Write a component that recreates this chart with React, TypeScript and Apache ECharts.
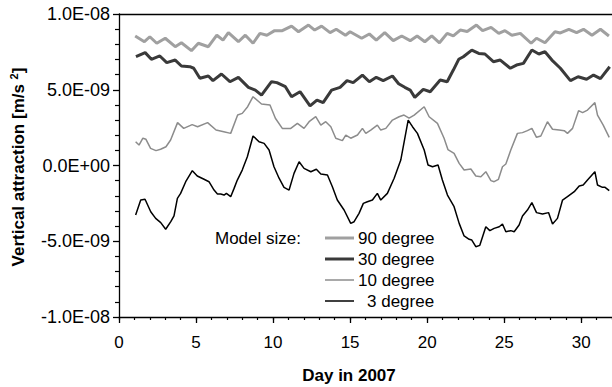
import React, { useEffect, useRef } from "react";
import * as echarts from "echarts";

// values in units of 1E-9 m/s^2
const days90 = [1.05, 1.65, 2.0, 2.45, 3.0, 3.65, 4.05, 4.7, 5.15, 5.8, 6.35, 6.75, 7.1, 7.75, 8.2, 8.7, 9.15, 9.6, 10.1, 10.6, 11.2, 11.65, 12.3, 12.7, 13.15, 13.7, 14.1, 14.7, 15.0, 15.75, 16.25, 16.7, 17.25, 17.8, 18.35, 18.9, 19.35, 19.85, 20.3, 20.8, 21.3, 21.7, 22.15, 22.6, 23.2, 23.6, 24.15, 24.65, 25.05, 25.5, 26.05, 26.75, 27.1, 27.65, 28.3, 28.65, 29.2, 29.7, 30.15, 30.7, 31.25, 31.8];
const deg90 = [8.55, 8.17, 8.5, 8.07, 8.4, 7.84, 8.1, 7.58, 8.07, 7.84, 8.6, 8.28, 8.77, 8.17, 8.6, 8.07, 8.72, 8.6, 8.9, 8.9, 9.2, 8.83, 9.27, 8.94, 9.2, 8.77, 8.99, 8.6, 8.83, 8.4, 8.68, 8.28, 8.77, 8.24, 8.55, 8.24, 8.55, 8.17, 8.55, 8.1, 8.72, 8.55, 8.94, 8.85, 9.27, 8.9, 9.12, 8.72, 8.9, 8.6, 8.72, 8.07, 8.4, 8.1, 8.83, 8.75, 8.99, 8.77, 8.99, 8.6, 8.99, 8.55];

const days30 = [1.1, 1.7, 2.1, 2.65, 3.1, 3.65, 4.05, 4.6, 4.85, 5.25, 5.8, 6.1, 6.65, 7.2, 7.75, 8.4, 8.85, 9.25, 9.9, 10.25, 10.8, 11.2, 11.75, 12.4, 12.85, 13.25, 13.8, 14.35, 14.8, 15.2, 15.8, 16.25, 16.7, 17.15, 17.75, 18.15, 18.55, 18.9, 19.2, 19.75, 20.2, 20.85, 21.3, 21.7, 22.05, 22.35, 22.9, 23.35, 23.75, 24.3, 24.75, 25.4, 25.8, 26.25, 26.8, 27.25, 27.65, 28.1, 28.65, 29.3, 29.8, 30.35, 30.8, 31.25, 31.85];
const deg30 = [7.18, 7.45, 7.01, 7.23, 6.79, 6.96, 6.57, 6.52, 6.42, 5.76, 5.91, 5.6, 6.04, 5.53, 5.82, 5.16, 4.98, 4.65, 5.53, 5.47, 5.2, 4.54, 4.87, 3.93, 4.32, 4.15, 4.98, 5.16, 5.6, 5.47, 5.97, 5.53, 5.82, 5.6, 5.91, 5.4, 5.16, 4.98, 4.5, 5.03, 4.87, 5.64, 5.53, 6.3, 7.01, 7.18, 7.62, 7.4, 7.36, 6.85, 6.96, 6.42, 6.63, 6.74, 7.62, 7.36, 7.51, 6.96, 6.42, 5.6, 5.86, 5.69, 5.97, 5.73, 6.52];

const days10 = [1.08, 1.3, 1.55, 1.75, 2.05, 2.4, 2.7, 3.05, 3.35, 3.8, 4.2, 4.75, 5.1, 5.75, 6.3, 6.8, 7.25, 7.7, 8.0, 8.35, 8.7, 9.25, 9.8, 10.15, 10.6, 11.15, 11.58, 12.01, 12.34, 12.77, 13.1, 13.42, 13.75, 14.07, 14.5, 14.72, 15.04, 15.48, 15.8, 16.02, 16.34, 16.77, 16.99, 17.32, 17.75, 18.18, 18.5, 18.83, 19.16, 19.81, 20.13, 20.67, 21.1, 21.35, 21.75, 22.08, 22.4, 22.84, 23.16, 23.49, 23.81, 24.14, 24.35, 24.63, 24.89, 25.11, 25.43, 25.86, 26.19, 26.51, 26.8, 27.1, 27.38, 27.81, 28.14, 28.57, 28.9, 29.11, 29.44, 29.83, 30.09, 30.41, 30.89, 31.06, 31.43, 31.82];
const deg10 = [1.57, 1.35, 1.8, 1.73, 1.13, 0.98, 1.07, 1.24, 1.68, 2.83, 2.45, 2.7, 2.56, 2.83, 2.34, 2.23, 2.12, 3.33, 3.44, 3.88, 4.54, 4.06, 3.99, 3.12, 2.45, 2.45, 2.78, 2.45, 2.89, 3.22, 2.67, 2.89, 2.56, 1.8, 1.64, 2.01, 1.8, 2.01, 2.45, 2.12, 2.34, 2.67, 2.34, 2.45, 3.0, 3.22, 3.33, 3.12, 3.33, 3.88, 3.22, 2.78, 1.8, 1.05, 0.8, 0.14, -0.3, -0.23, -0.69, -0.74, -0.41, -1.0, -1.07, -0.91, -0.08, 0.1, 1.02, 2.12, 2.17, 2.3, 2.45, 1.86, 1.95, 2.89, 2.39, 2.34, 2.3, 2.12, 2.45, 3.62, 3.49, 3.66, 4.15, 3.33, 2.67, 1.86];

const days3 = [1.08, 1.41, 1.69, 2.06, 2.38, 2.71, 3.03, 3.36, 3.57, 3.79, 4.0, 4.33, 4.76, 5.08, 5.52, 5.84, 6.17, 6.39, 6.6, 6.82, 6.97, 7.25, 7.47, 7.68, 8.0, 8.33, 8.7, 9.09, 9.42, 9.74, 10.06, 10.39, 10.71, 11.04, 11.36, 11.69, 12.01, 12.45, 12.81, 13.1, 13.53, 13.85, 14.17, 14.61, 15.04, 15.26, 15.58, 15.86, 16.12, 16.45, 16.77, 16.99, 17.42, 17.86, 18.29, 18.77, 19.05, 19.37, 19.81, 20.06, 20.35, 20.71, 20.99, 21.32, 21.75, 22.08, 22.4, 22.73, 22.9, 23.16, 23.42, 23.81, 24.07, 24.35, 24.68, 24.89, 25.11, 25.43, 25.65, 25.97, 26.19, 26.51, 26.8, 27.1, 27.49, 27.88, 28.14, 28.46, 28.79, 29.11, 29.55, 29.87, 30.13, 30.41, 30.89, 31.06, 31.38, 31.55, 31.82];
const deg3 = [-3.27, -2.28, -2.23, -3.05, -3.49, -3.77, -4.21, -3.71, -3.33, -2.17, -1.84, -1.07, -0.34, -0.69, -0.91, -1.07, -1.62, -1.88, -1.88, -1.95, -1.84, -2.06, -1.51, -0.96, -0.3, 0.58, 1.95, 1.57, 1.46, 1.02, -0.08, -0.84, -1.44, -1.62, -0.52, 0.25, -0.19, -0.41, -0.25, -0.56, -0.63, -1.4, -2.28, -2.94, -3.82, -3.71, -3.16, -2.5, -2.39, -2.28, -1.84, -2.28, -1.84, -0.84, 0.36, 3.0, 2.56, 2.12, 1.02, 0.03, -0.08, 0.03, -0.96, -1.95, -2.72, -3.82, -4.65, -4.87, -4.92, -5.36, -5.27, -4.04, -4.3, -4.15, -4.04, -3.86, -4.37, -4.3, -4.37, -3.93, -3.33, -2.94, -2.45, -3.11, -3.2, -3.11, -3.86, -3.49, -2.28, -2.06, -1.73, -1.35, -1.29, -0.96, -0.41, -1.29, -1.44, -1.44, -1.66];

const seriesNames = ["90 degree", "30 degree", "10 degree", "3 degree"];
const legendTitle = "Model size:";
const yTickValues = [-10, -5, 0, 5, 10];
const yTickLabels = ["-1.0E-08", "-5.0E-09", "0.0E+00", "5.0E-09", "1.0E-08"];

const FONT = "'Liberation Sans', Arial, Helvetica, sans-serif";

function pairs(xs: number[], ys: number[]) {
  return xs.map((x, i) => [x, ys[i]]);
}

export default function App() {
  const ref = useRef<HTMLDivElement>(null);
  useEffect(() => {
    if (!ref.current) return;
    const chart = echarts.init(ref.current, null, { renderer: "svg" });
    const styles = [
      { color: "#a0a0a0", width: 3 },
      { color: "#3a3a3a", width: 3 },
      { color: "#8c8c8c", width: 1.5 },
      { color: "#000000", width: 1.5 },
    ];
    const dataSets = [
      pairs(days90, deg90),
      pairs(days30, deg30),
      pairs(days10, deg10),
      pairs(days3, deg3),
    ];
    const axisLineStyle = { color: "#000", width: 1.3 };
    const legendRowsY = [238, 259, 280, 301];
    const legendGraphics: any[] = [];
    seriesNames.forEach((name, i) => {
      legendGraphics.push({
        type: "line",
        shape: { x1: 325, y1: legendRowsY[i], x2: 354, y2: legendRowsY[i] },
        style: { stroke: styles[i].color, lineWidth: styles[i].width },
      });
      legendGraphics.push({
        type: "text",
        x: name.startsWith("3 ") ? 367 : 358,
        y: legendRowsY[i],
        style: { text: name, font: `17px ${FONT}`, fill: "#000", verticalAlign: "middle" },
      });
    });
    chart.setOption({
      animation: false,
      backgroundColor: "#fff",
      textStyle: { fontFamily: FONT },
      grid: { left: 119, top: 14, right: 0, bottom: 70, containLabel: false },
      xAxis: [
        {
          type: "value",
          min: 0,
          max: 32,
          interval: 5,
          axisLine: { onZero: false, lineStyle: axisLineStyle },
          axisTick: { length: 6, lineStyle: axisLineStyle },
          splitLine: { show: false },
          axisLabel: {
            fontSize: 17,
            color: "#000",
            margin: 17,
            fontFamily: FONT,
            showMaxLabel: false,
            formatter: (v: number) => (v <= 30 ? String(v) : ""),
          },
        },
        {
          type: "value",
          position: "top",
          min: 0,
          max: 32,
          axisLine: { show: true, onZero: false, lineStyle: axisLineStyle },
          axisTick: { show: false },
          axisLabel: { show: false },
          splitLine: { show: false },
        },
        {
          type: "value",
          position: "bottom",
          min: 0,
          max: 32,
          interval: 1,
          axisLine: { show: false, onZero: false },
          axisTick: { show: true, length: 3, lineStyle: { color: "#000", width: 1.2 } },
          axisLabel: { show: false },
          splitLine: { show: false },
        },
      ],
      yAxis: {
        type: "value",
        min: -10,
        max: 10,
        interval: 5,
        axisLine: { show: true, onZero: false, lineStyle: axisLineStyle },
        axisTick: { show: true, length: 6, lineStyle: axisLineStyle },
        minorTick: { show: true, splitNumber: 5, length: 4, lineStyle: { color: "#000", width: 1.2 } },
        splitLine: { show: false },
        axisLabel: {
          fontSize: 18,
          color: "#000",
          margin: 9,
          fontFamily: FONT,
          formatter: (v: number) => {
            const i = yTickValues.indexOf(Math.round(v));
            return i >= 0 ? yTickLabels[i] : "";
          },
        },
      },
      series: seriesNames.map((name, i) => ({
        name,
        type: "line",
        data: dataSets[i],
        showSymbol: false,
        symbol: "none",
        smooth: false,
        color: styles[i].color,
        lineStyle: { color: styles[i].color, width: styles[i].width },
        z: 2 + i,
      })),
      graphic: [
        {
          type: "text",
          x: 215,
          y: 238,
          style: { text: legendTitle, font: `17px ${FONT}`, fill: "#000", verticalAlign: "middle" },
        },
        ...legendGraphics,
        {
          type: "text",
          x: 349,
          y: 375,
          style: {
            text: "Day in 2007",
            font: `bold 17px ${FONT}`,
            fill: "#000",
            align: "center",
            verticalAlign: "middle",
          },
        },
        {
          type: "text",
          x: 18,
          y: 167,
          rotation: Math.PI / 2,
          style: {
            text: "{t|Vertical attraction [m/s }{s|2}{t|]}",
            align: "center",
            verticalAlign: "middle",
            fill: "#000",
            rich: {
              t: { fontSize: 17, fontWeight: "bold", fontFamily: FONT, fill: "#000", lineHeight: 20 },
              s: { fontSize: 11, fontWeight: "bold", fontFamily: FONT, fill: "#000", verticalAlign: "top", lineHeight: 20 },
            },
          },
        },
      ],
    });
    return () => chart.dispose();
  }, []);
  return (
    <div
      ref={ref}
      style={{ position: "fixed", left: 0, top: 0, width: 612, height: 387 }}
    />
  );
}
